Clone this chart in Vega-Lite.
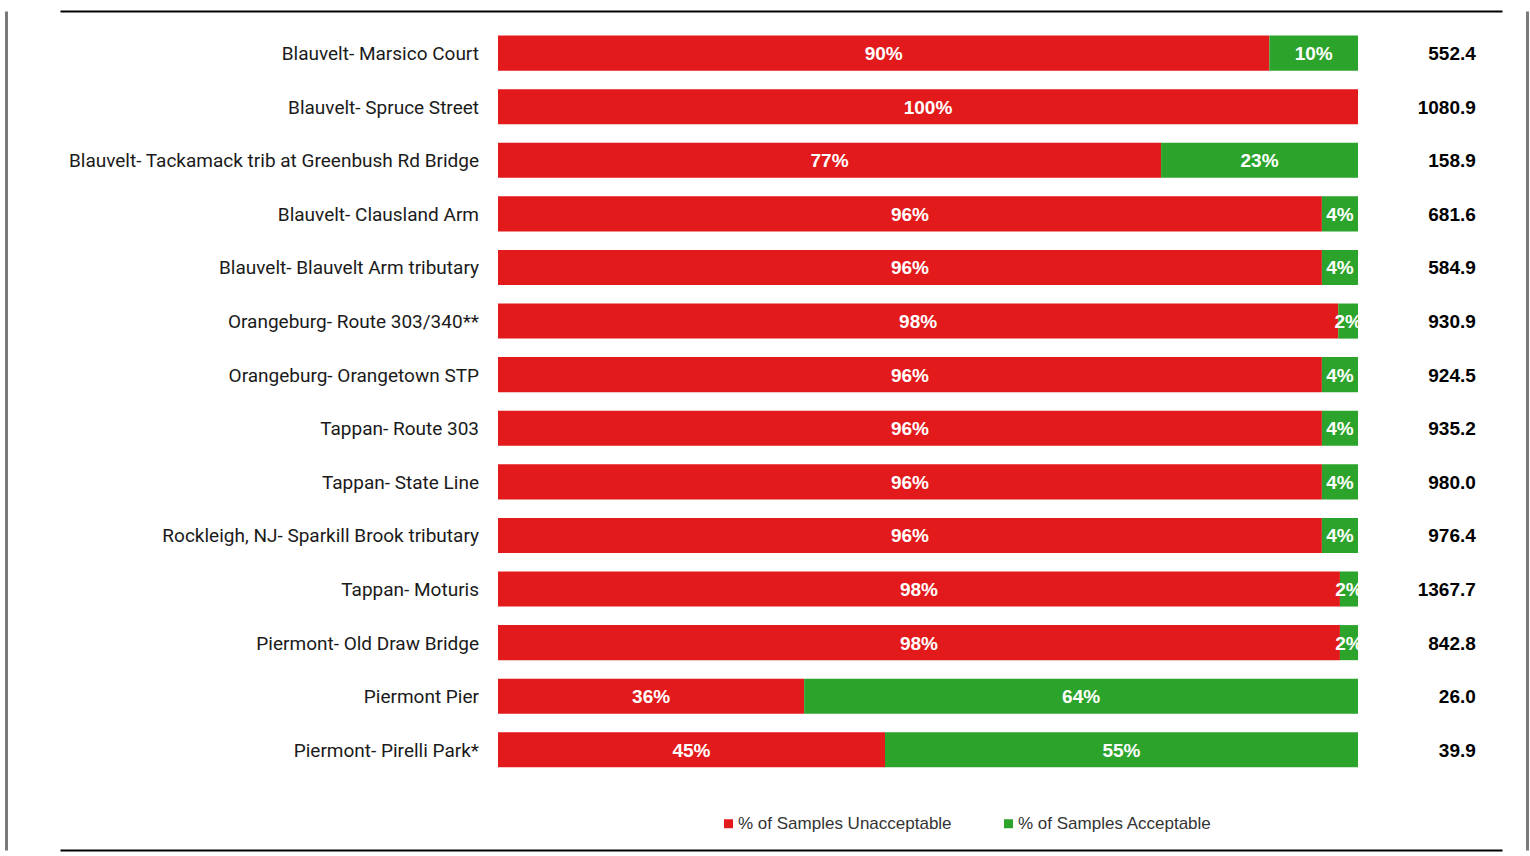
{
  "$schema": "https://vega.github.io/schema/vega-lite/v6.json",
  "autosize": {"type": "none"},
  "width": 1442,
  "height": 839,
  "padding": {"left": 60, "top": 11, "right": 28, "bottom": 6},
  "background": "white",
  "config": {"view": {"stroke": null}, "font": "Liberation Sans"},
  "datasets": {
    "bars": [
      {"site": "Blauvelt- Marsico Court", "status": "% of Samples Unacceptable", "share": 0.897},
      {"site": "Blauvelt- Marsico Court", "status": "% of Samples Acceptable", "share": 0.103},
      {"site": "Blauvelt- Spruce Street", "status": "% of Samples Unacceptable", "share": 1.0},
      {"site": "Blauvelt- Tackamack trib at Greenbush Rd Bridge", "status": "% of Samples Unacceptable", "share": 0.771},
      {"site": "Blauvelt- Tackamack trib at Greenbush Rd Bridge", "status": "% of Samples Acceptable", "share": 0.229},
      {"site": "Blauvelt- Clausland Arm", "status": "% of Samples Unacceptable", "share": 0.958},
      {"site": "Blauvelt- Clausland Arm", "status": "% of Samples Acceptable", "share": 0.042},
      {"site": "Blauvelt- Blauvelt Arm tributary", "status": "% of Samples Unacceptable", "share": 0.958},
      {"site": "Blauvelt- Blauvelt Arm tributary", "status": "% of Samples Acceptable", "share": 0.042},
      {"site": "Orangeburg- Route 303/340**", "status": "% of Samples Unacceptable", "share": 0.977},
      {"site": "Orangeburg- Route 303/340**", "status": "% of Samples Acceptable", "share": 0.023},
      {"site": "Orangeburg- Orangetown STP", "status": "% of Samples Unacceptable", "share": 0.958},
      {"site": "Orangeburg- Orangetown STP", "status": "% of Samples Acceptable", "share": 0.042},
      {"site": "Tappan- Route 303", "status": "% of Samples Unacceptable", "share": 0.958},
      {"site": "Tappan- Route 303", "status": "% of Samples Acceptable", "share": 0.042},
      {"site": "Tappan- State Line", "status": "% of Samples Unacceptable", "share": 0.958},
      {"site": "Tappan- State Line", "status": "% of Samples Acceptable", "share": 0.042},
      {"site": "Rockleigh, NJ- Sparkill Brook tributary", "status": "% of Samples Unacceptable", "share": 0.958},
      {"site": "Rockleigh, NJ- Sparkill Brook tributary", "status": "% of Samples Acceptable", "share": 0.042},
      {"site": "Tappan- Moturis", "status": "% of Samples Unacceptable", "share": 0.979},
      {"site": "Tappan- Moturis", "status": "% of Samples Acceptable", "share": 0.021},
      {"site": "Piermont- Old Draw Bridge", "status": "% of Samples Unacceptable", "share": 0.979},
      {"site": "Piermont- Old Draw Bridge", "status": "% of Samples Acceptable", "share": 0.021},
      {"site": "Piermont Pier", "status": "% of Samples Unacceptable", "share": 0.356},
      {"site": "Piermont Pier", "status": "% of Samples Acceptable", "share": 0.644},
      {"site": "Piermont- Pirelli Park*", "status": "% of Samples Unacceptable", "share": 0.45},
      {"site": "Piermont- Pirelli Park*", "status": "% of Samples Acceptable", "share": 0.55}
    ],
    "sites": [
      {"site": "Blauvelt- Marsico Court", "value": "552.4"},
      {"site": "Blauvelt- Spruce Street", "value": "1080.9"},
      {"site": "Blauvelt- Tackamack trib at Greenbush Rd Bridge", "value": "158.9"},
      {"site": "Blauvelt- Clausland Arm", "value": "681.6"},
      {"site": "Blauvelt- Blauvelt Arm tributary", "value": "584.9"},
      {"site": "Orangeburg- Route 303/340**", "value": "930.9"},
      {"site": "Orangeburg- Orangetown STP", "value": "924.5"},
      {"site": "Tappan- Route 303", "value": "935.2"},
      {"site": "Tappan- State Line", "value": "980.0"},
      {"site": "Rockleigh, NJ- Sparkill Brook tributary", "value": "976.4"},
      {"site": "Tappan- Moturis", "value": "1367.7"},
      {"site": "Piermont- Old Draw Bridge", "value": "842.8"},
      {"site": "Piermont Pier", "value": "26.0"},
      {"site": "Piermont- Pirelli Park*", "value": "39.9"}
    ]
  },
  "layer": [
    {
      "data": {"name": "bars"},
      "transform": [
        {"stack": "share", "groupby": ["site"], "sort": [{"field": "status", "order": "descending"}], "as": ["x0", "x1"]}
      ],
      "mark": {"type": "bar", "strokeWidth": 0},
      "encoding": {
        "y": {
          "field": "site", "type": "nominal",
          "scale": {
            "domain": ["Blauvelt- Marsico Court", "Blauvelt- Spruce Street", "Blauvelt- Tackamack trib at Greenbush Rd Bridge", "Blauvelt- Clausland Arm", "Blauvelt- Blauvelt Arm tributary", "Orangeburg- Route 303/340**", "Orangeburg- Orangetown STP", "Tappan- Route 303", "Tappan- State Line", "Rockleigh, NJ- Sparkill Brook tributary", "Tappan- Moturis", "Piermont- Old Draw Bridge", "Piermont Pier", "Piermont- Pirelli Park*"],
            "paddingInner": 0.3453, "paddingOuter": 1.03, "align": 0.229
          },
          "axis": {"orient": "left", "offset": 54, "domainColor": "#7a7a7a", "domainWidth": 3, "labels": false, "ticks": false, "grid": false, "title": null}
        },
        "x": {
          "field": "x0", "type": "quantitative",
          "scale": {"domain": [-0.5093, 1.16744], "nice": false, "zero": false},
          "axis": {"orient": "top", "domainColor": "#000000", "domainWidth": 2, "labels": false, "ticks": false, "grid": false, "title": null}
        },
        "x2": {"field": "x1"},
        "color": {
          "field": "status", "type": "nominal",
          "scale": {"domain": ["% of Samples Unacceptable", "% of Samples Acceptable"], "range": ["#E31A1C", "#2CA42C"]},
          "legend": {
            "orient": "none", "legendX": 660, "legendY": 804, "direction": "horizontal", "title": null,
            "symbolType": "square", "symbolSize": 81, "symbolStrokeWidth": 0, "labelFontSize": 17, "labelColor": "#333333",
            "labelOffset": 1, "columnPadding": 48, "padding": 0, "labelFont": "Liberation Sans", "labelLimit": 500
          }
        }
      }
    },
    {
      "data": {"name": "bars"},
      "transform": [
        {"stack": "share", "groupby": ["site"], "sort": [{"field": "status", "order": "descending"}], "as": ["x0", "x1"]}
      ],
      "mark": {"type": "text", "color": "white", "fontSize": 19, "fontWeight": "bold", "align": "center", "baseline": "middle", "font": "Liberation Sans", "dy": 1,
        "dx": {"expr": "(scale('x', datum.x1) - scale('x', datum.x0)) / 2"}},
      "encoding": {
        "y": {"field": "site", "type": "nominal", "axis": {"orient": "right", "offset": 25, "domainColor": "#7a7a7a", "domainWidth": 3, "labels": false, "ticks": false, "grid": false, "title": null}},
        "x": {"field": "x0", "type": "quantitative", "axis": {"orient": "bottom", "domainColor": "#000000", "domainWidth": 2, "labels": false, "ticks": false, "grid": false, "title": null}},
        "text": {"field": "share", "type": "quantitative", "format": ".0%"}
      }
    },
    {
      "data": {"name": "sites"},
      "mark": {"type": "text", "align": "right", "baseline": "middle", "dx": -19, "dy": 1, "fontSize": 19, "font": "Roboto", "color": "#1a1a1a"},
      "encoding": {
        "y": {"field": "site", "type": "nominal", "axis": null},
        "x": {"datum": 0, "type": "quantitative", "axis": null},
        "text": {"field": "site", "type": "nominal"}
      }
    },
    {
      "data": {"name": "sites"},
      "mark": {"type": "text", "align": "right", "baseline": "middle", "dy": 1, "fontSize": 19, "fontWeight": "bold", "font": "Liberation Sans", "color": "#000000"},
      "encoding": {
        "y": {"field": "site", "type": "nominal", "axis": null},
        "x": {"datum": 1.137, "type": "quantitative", "axis": null},
        "text": {"field": "value", "type": "nominal"}
      }
    }
  ],
  "resolve": {"axis": {"x": "independent", "y": "independent"}}
}
